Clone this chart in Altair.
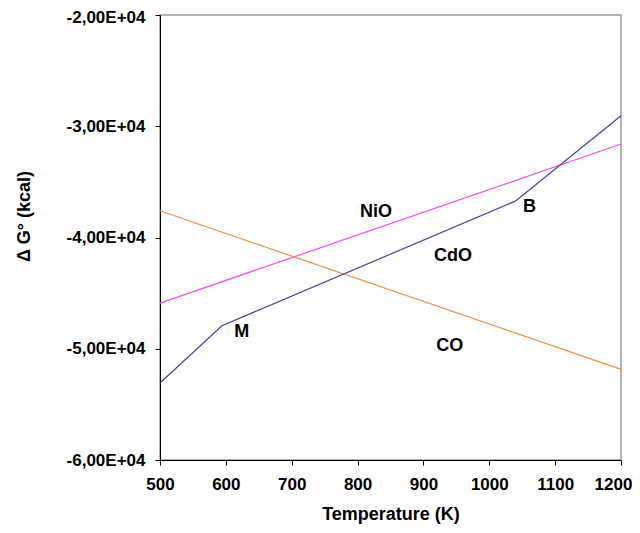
import altair as alt
import pandas as pd

# Data
nio_T = [500, 1200]
nio_G = [-45900, -31600]
co_T = [500, 1200]
co_G = [-37600, -51850]
cdo_T = [500, 594, 1040, 1200]
cdo_G = [-53080, -47930, -36720, -29050]

label_text = ["NiO", "CdO", "CO", "M", "B"]
label_T = [828, 945, 940, 624, 1061]
label_G = [-37700, -41650, -49750, -48500, -37250]

x_ticks = [500, 600, 700, 800, 900, 1000, 1100, 1200]
y_ticks = [-60000, -50000, -40000, -30000, -20000]

rows = []
for t, g in zip(nio_T, nio_G):
    rows.append({"series": "NiO", "T": t, "G": g})
for t, g in zip(co_T, co_G):
    rows.append({"series": "CO", "T": t, "G": g})
for t, g in zip(cdo_T, cdo_G):
    rows.append({"series": "CdO", "T": t, "G": g})
df = pd.DataFrame(rows)
labels = pd.DataFrame({"text": label_text, "T": label_T, "G": label_G})

FONT = "Liberation Sans"

x = alt.X("T:Q", scale=alt.Scale(domain=[500, 1200], nice=False),
          axis=alt.Axis(title="Temperature (K)", values=x_ticks, grid=False,
                        format="d",
                        tickSize=5, labelPadding=11, titlePadding=13,
                        labelFontSize=17, labelFontWeight="bold", labelFont=FONT,
                        titleFontSize=18, titleFontWeight="bold", titleFont=FONT,
                        domainColor="black", tickColor="black", labelColor="black",
                        titleColor="black", labelFlush=False,
                        labelOffset=alt.ExprRef("datum.value == 1200 ? -8 : 0")))
y = alt.Y("G:Q", scale=alt.Scale(domain=[-60000, -20000], nice=False),
          axis=alt.Axis(title="\u0394 G\u00b0 (kcal)", values=y_ticks, grid=False,
                        tickSize=5, labelPadding=10,
                        labelExpr="'-' + replace(format(abs(datum.value)/10000, '.2f'), '.', ',') + 'E+04'",
                        labelFontSize=17, labelFontWeight="bold", labelFont=FONT,
                        titleFontSize=18, titleFontWeight="bold", titleFont=FONT,
                        titleAngle=270, titleAlign="center", titleBaseline="middle",
                        titleX=-136, titleY=201,
                        domainColor="black", tickColor="black", labelColor="black",
                        titleColor="black", labelFlush=False,
                        labelOffset=alt.ExprRef("datum.value == -20000 ? 2 : 0")))

lines = alt.Chart(df).mark_line(strokeWidth=1.2).encode(
    x=x, y=y,
    color=alt.Color("series:N",
                    scale=alt.Scale(domain=["NiO", "CO", "CdO"],
                                    range=["#f050f0", "#f0904a", "#4a3f98"]),
                    legend=None),
    detail="series:N",
)

text = alt.Chart(labels).mark_text(fontSize=18, fontWeight="bold", font=FONT,
                                    color="black").encode(
    x=alt.X("T:Q"), y=alt.Y("G:Q"), text="text:N")

chart = alt.layer(lines, text).properties(
    width=461, height=445,
    autosize=alt.AutoSizeParams(type="none"),
    padding={"left": 152, "top": 7, "right": 11, "bottom": 65},
).configure_view(stroke="#999999", strokeWidth=1.5)

chart.save("out.html", embed_options={"renderer": "svg", "actions": False})
